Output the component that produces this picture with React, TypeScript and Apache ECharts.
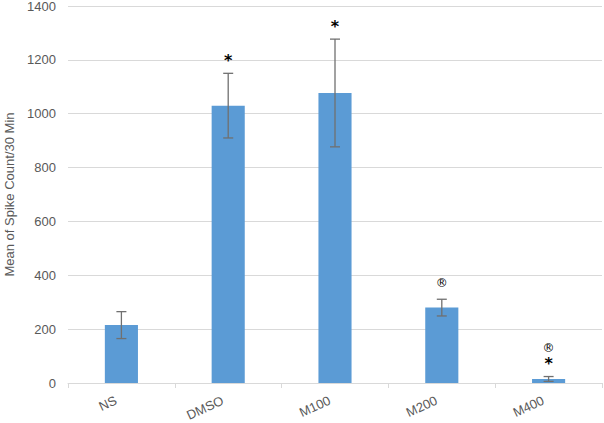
import React, { useEffect, useRef } from "react";
import * as echarts from "echarts";

const categories = ["NS", "DMSO", "M100", "M200", "M400"];
const means = [215, 1030, 1077, 280, 15];
const errors = [50, 120, 200, 31, 9];
const annotations: string[][] = [[], ["*"], ["*"], ["®"], ["®", "*"]];
const yTicks = { min: 0, max: 1400, interval: 200 };

export default function App() {
  const ref = useRef<HTMLDivElement>(null);
  useEffect(() => {
    if (!ref.current) return;
    const chart = echarts.init(ref.current, undefined, { renderer: "svg" });
    const font = "'Liberation Sans', 'Open Sans', sans-serif";
    chart.setOption({
      animation: false,
      grid: { left: 68, right: 2, top: 6, bottom: 40, containLabel: false, outerBoundsMode: "none" },
      xAxis: {
        type: "category",
        data: categories,
        boundaryGap: true,
        axisLine: { lineStyle: { color: "#d9d9d9" } },
        axisTick: { show: true, length: 5, lineStyle: { color: "#d9d9d9" } },
        axisLabel: {
          rotate: 25,
          color: "#595959",
          fontSize: 13,
          fontFamily: font,
          margin: 14,
          padding: [0, 6, 0, 0],
        },
        splitLine: { show: false },
      },
      yAxis: {
        type: "value",
        min: yTicks.min,
        max: yTicks.max,
        interval: yTicks.interval,
        name: "Mean of Spike Count/30 Min",
        nameLocation: "middle",
        nameGap: 48,
        nameTextStyle: { color: "#595959", fontSize: 13, fontFamily: font },
        axisLine: { show: false },
        axisTick: { show: false },
        axisLabel: {
          color: "#595959",
          fontSize: 13,
          fontFamily: font,
          margin: 12,
          formatter: (v: number) => String(v),
        },
        splitLine: { lineStyle: { color: "#d9d9d9", width: 1 } },
      },
      series: [
        {
          type: "bar",
          data: means,
          barWidth: "31%",
          itemStyle: { color: "#5b9bd5" },
        },
        {
          type: "custom",
          data: categories.map((_, i) => [i, means[i] - errors[i], means[i] + errors[i]]),
          renderItem: (params: any, api: any) => {
            const i = api.value(0);
            const lo = api.coord([i, api.value(1)]);
            const hi = api.coord([i, api.value(2)]);
            const x = lo[0];
            const cap = 5;
            const style = { stroke: "#707070", lineWidth: 1.3 };
            const children: any[] = [
              { type: "line", shape: { x1: x, y1: lo[1], x2: x, y2: hi[1] }, style },
              { type: "line", shape: { x1: x - cap, y1: lo[1], x2: x + cap, y2: lo[1] }, style },
              { type: "line", shape: { x1: x - cap, y1: hi[1], x2: x + cap, y2: hi[1] }, style },
            ];
            const anns = annotations[params.dataIndex];
            let yb = hi[1];
            for (let k = anns.length - 1; k >= 0; k--) {
              const t = anns[k];
              const isStar = t === "*";
              yb -= k === anns.length - 1 ? (isStar ? 5 : 10) : 2;
              children.push({
                type: "text",
                x: x,
                y: yb,
                style: {
                  text: t,
                  fill: "#000",
                  font: isStar ? "bold 16px 'DejaVu Sans', sans-serif" : "12px 'DejaVu Sans', sans-serif",
                  align: "center",
                  verticalAlign: "bottom",
                },
              });
              yb -= isStar ? 16 : 14;
            }
            return { type: "group", children };
          },
          z: 5,
        },
      ],
    });
    return () => chart.dispose();
  }, []);
  return (
    <div
      ref={ref}
      style={{ position: "fixed", left: 0, top: 0, width: 604, height: 423, background: "#fff" }}
    />
  );
}
